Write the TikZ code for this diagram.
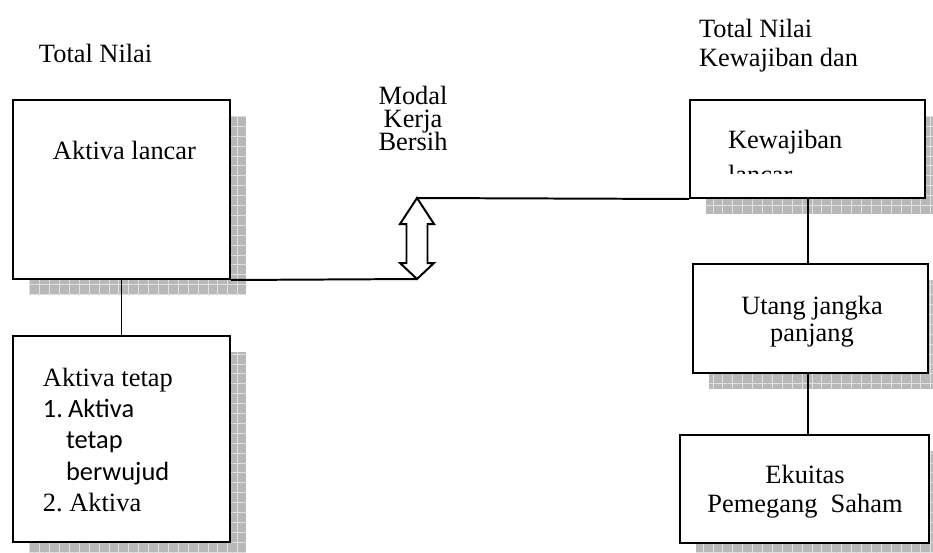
\documentclass[tikz,border=0pt]{standalone}
\usepackage{fontspec}
\setmainfont{Liberation Serif}
\newfontfamily\calibri{Carlito}
\usetikzlibrary{fit,shadows,patterns.meta}
\setlength{\lineskiplimit}{-20pt}

\tikzset{
  box/.style={draw, fill=white,
    general shadow={shadow xshift=7.3pt, shadow yshift=-7.3pt, fill=black!28},
    general shadow={shadow xshift=7.3pt, shadow yshift=-7.3pt,
      pattern={Lines[distance=4.5pt, angle=0, line width=0.35pt]}, pattern color=black!12},
    general shadow={shadow xshift=7.3pt, shadow yshift=-7.3pt,
      pattern={Lines[distance=4.5pt, angle=90, line width=0.35pt]}, pattern color=black!12}},
  lines/.style={font=\fontsize{12}{#1}\selectfont\frenchspacing},
}

\begin{document}
\begin{tikzpicture}[x=0.4545pt, y=-0.4545pt, line width=0.9pt,
    every node/.style={inner sep=0pt, font=\fontsize{12}{14}\selectfont\frenchspacing}]
    \useasboundingbox (0,0) rectangle (933,552);
    \clip (0,0) rectangle (933,552);

    % boxes
    \node[box, fit={(13,100) (230,279)}] (al) {};
    \node[box, fit={(13,336) (230,542)}] (at) {};
    \node[box, fit={(690,100) (925,198)}] (kl) {};
    \node[box, fit={(693,264) (928,373)}] (ujp) {};
    \node[box, fit={(680,435) (929,543)}] (eq) {};

    % texts
    \node[anchor=base west] (totL) at (38,62) {Total Nilai};
    \node[anchor=north west, align=left, lines=13.2pt] (totR) at (698,18) {Total Nilai\\Kewajiban dan};
    \node[anchor=north, align=center, lines=10.45pt] (mkb) at (413,85) {Modal\\Kerja\\Bersih};
    \node[anchor=base west] (alTxt) at (52,159) {Aktiva lancar};
    \node[anchor=north west, align=left, lines=14.2pt] (atTxt) at (42,367)
        {Aktiva tetap\\
         {\calibri\makebox[11.4pt][l]{1.}Aktiva}\\
         {\calibri\hspace*{10.5pt}tetap}\\
         {\calibri\hspace*{10.5pt}berwujud}\\
         2. Aktiva};
    \node[anchor=base west] (klTxt) at (727,148) {Kewajiban};
    \begin{scope}
        \clip (690,100) rectangle (925,173);
        \node[anchor=base west] (klTxtB) at (727,183) {lancar};
    \end{scope}
    \node[anchor=north, align=center, lines=12.3pt] (ujpTxt) at (812,295) {Utang jangka\\panjang};
    \node[anchor=north, align=center, lines=13.2pt] (eqTxt) at (805,464) {Ekuitas\\Pemegang\ \ Saham};

    % connectors
    \coordinate (lo) at (417,279);
    \coordinate (hi) at (417,198);
    \draw (al.south east) -- (lo);
    \draw (hi) -- (kl.south west);
    \draw (al.south) -- (at.north);
    \draw (kl.south) -- (kl.south |- ujp.north);
    \draw (kl.south |- ujp.south) -- (kl.south |- eq.north);
    \draw[fill=white] (hi) -- ++(17,26) -- ++(-6.5,0) -- ++(0,39) -- ++(6.5,0) -- (lo)
        -- ++(-17,-16) -- ++(6.5,0) -- ++(0,-39) -- ++(-6.5,0) -- cycle;
\end{tikzpicture}
\end{document}
